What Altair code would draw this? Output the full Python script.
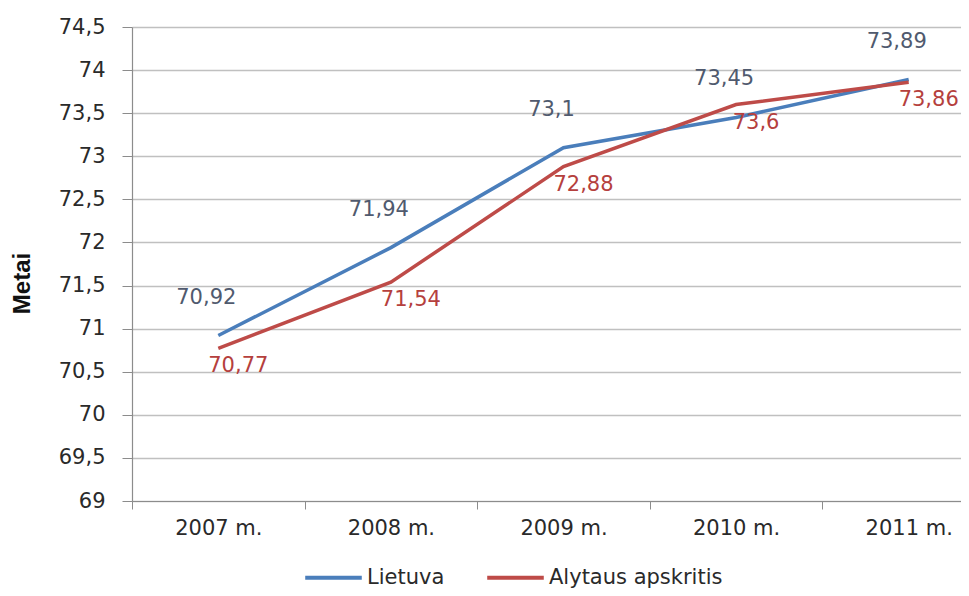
import altair as alt
import pandas as pd

years = ["2007 m.", "2008 m.", "2009 m.", "2010 m.", "2011 m."]
lietuva = [70.92, 71.94, 73.10, 73.45, 73.89]
alytaus = [70.77, 71.54, 72.88, 73.60, 73.86]
series = ["Lietuva", "Alytaus apskritis"]
y_ticks = [69, 69.5, 70, 70.5, 71, 71.5, 72, 72.5, 73, 73.5, 74, 74.5]

df = pd.DataFrame({
    "metai": years * 2,
    "serija": [series[0]] * len(years) + [series[1]] * len(years),
    "reiksme": lietuva + alytaus,
})

FONT = "DejaVu Sans"
FS = 21
line_colors = ["#4A7EBB", "#BE4B48"]
label_colors = ["#505A6E", "#B5403D"]
text_color = "#2A2A2A"

x_enc = alt.X(
    "metai:N",
    sort=years,
    scale=alt.Scale(type="band", range=[0, 863], paddingInner=0, paddingOuter=0),
    axis=alt.Axis(
        title=None, tickBand="extent", labelAngle=0, grid=False,
        domainColor="#8C8C8C", tickColor="#8C8C8C", tickSize=8, domainWidth=1.2,
        labelFont=FONT, labelFontSize=FS, labelColor=text_color, labelPadding=8,
    ),
)
y_enc = alt.Y(
    "reiksme:Q",
    scale=alt.Scale(domain=[69, 74.5], nice=False, zero=False),
    axis=alt.Axis(
        values=y_ticks,
        labelExpr="replace(toString(datum.value), '.', ',')",
        title="Metai", titleFont="Liberation Sans", titleFontSize=24,
        titleFontWeight="bold", titleColor="#111111", titleAngle=-90,
        titleX=-110, titleY=256, titleBaseline="middle", titleAlign="center",
        grid=True, gridColor="#C0C0C0", gridWidth=1.5,
        domainColor="#8C8C8C", tickColor="#8C8C8C", tickSize=10, domainWidth=1.2,
        labelFont=FONT, labelFontSize=FS, labelColor=text_color, labelPadding=17,
    ),
)

lines = alt.Chart(df).mark_line(strokeWidth=3.5).encode(
    x=x_enc,
    y=y_enc,
    color=alt.Color(
        "serija:N",
        scale=alt.Scale(domain=series, range=line_colors),
        legend=alt.Legend(
            title=None, orient="none", legendX=171, legendY=520,
            direction="horizontal", symbolType="stroke", symbolSize=3200,
            symbolStrokeWidth=4, labelFont=FONT, labelFontSize=FS,
            labelColor=text_color, labelOffset=3, columnPadding=34,
            labelLimit=0,
        ),
    ),
    order=alt.Order("serija:N", sort="descending"),
)

labels_lt = alt.Chart(df).transform_filter(
    alt.datum.serija == series[0]
).transform_calculate(
    txt="replace(toString(datum.reiksme), '.', ',')"
).mark_text(
    font=FONT, fontSize=FS, color=label_colors[0], dx=-12, dy=-38, baseline="middle"
).encode(x=alt.X("metai:N", sort=years), y="reiksme:Q", text="txt:N")

labels_al = alt.Chart(df).transform_filter(
    alt.datum.serija == series[1]
).transform_calculate(
    txt="replace(toString(datum.reiksme), '.', ',')"
).mark_text(
    font=FONT, fontSize=FS, color=label_colors[1], dx=20, dy=18, baseline="middle"
).encode(x=alt.X("metai:N", sort=years), y="reiksme:Q", text="txt:N")

chart = alt.layer(lines, labels_lt, labels_al).properties(
    width=829,
    height=474,
    autosize=alt.AutoSizeParams(type="none"),
    padding={"left": 124, "top": 19, "right": 0, "bottom": 87},
    background="white",
).configure_view(stroke=None)

chart.save("out.html", embed_options={"renderer": "svg", "actions": False})
